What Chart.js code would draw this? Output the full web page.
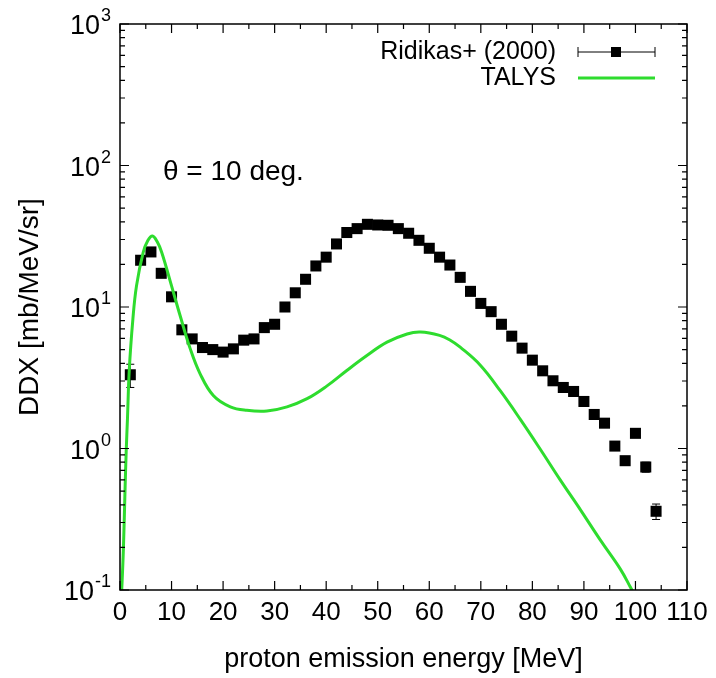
<!DOCTYPE html>
<html>
<head>
<meta charset="utf-8">
<title>DDX proton emission, theta = 10 deg</title>
<script src="https://cdn.jsdelivr.net/npm/chart.js@4.4.1/dist/chart.umd.min.js"></script>
<style>
  html, body { margin: 0; padding: 0; background: #fff; }
  #wrap { width: 716px; height: 678px; }
</style>
</head>
<body>
<div id="wrap"><canvas id="ddxChart" width="716" height="678"></canvas></div>
<script>
// Ridikas+ (2000) measured DDX at 10 deg
const energy = [2, 4, 6, 8, 10, 12, 14, 16, 18, 20, 22, 24, 26, 28, 30, 32, 34, 36, 38, 40,
                42, 44, 46, 48, 50, 52, 54, 56, 58, 60, 62, 64, 66, 68, 70, 72, 74, 76, 78, 80,
                82, 84, 86, 88, 90, 92, 94, 96, 98, 100, 102, 104];
const ddx = [3.32, 21.4, 24.5, 17.3, 11.8, 6.9, 5.95, 5.17, 5.0, 4.8, 5.06, 5.83, 5.95, 7.15, 7.55, 10.0, 12.6, 15.7, 19.5, 22.5,
             27.9, 33.6, 35.8, 38.4, 38.0, 37.8, 35.8, 33.2, 29.6, 26.0, 22.5, 19.8, 16.2, 12.9, 10.6, 9.27, 7.55, 6.22, 5.12, 4.21,
             3.54, 3.01, 2.70, 2.53, 2.15, 1.74, 1.51, 1.04, 0.82, 1.28, 0.74, 0.36];
const ddxErr = [0.62, 0.9, 1.0, 0.7, 0.5, 0.3, 0.25, 0.2, 0.2, 0.2, 0.2, 0.25, 0.25, 0.3, 0.3, 0.4, 0.5, 0.6, 0.8, 0.9,
                1.1, 1.3, 1.4, 1.5, 1.5, 1.5, 1.4, 1.3, 1.2, 1.0, 0.9, 0.8, 0.7, 0.5, 0.45, 0.4, 0.3, 0.25, 0.22, 0.18,
                0.15, 0.13, 0.12, 0.11, 0.1, 0.08, 0.07, 0.05, 0.04, 0.06, 0.06, 0.045];

// TALYS calculation
const talysEnergy = [0.25, 0.65, 1.0, 1.2, 1.45, 1.8, 2.5, 3.2, 4.5, 5.4, 6.3, 7.2, 8.1, 10.0, 11.7, 13.6, 15.5, 18.1,
                     21.4, 24.6, 28.5, 32.4, 36.3, 40.1, 44.0, 47.9, 51.8, 55.7, 58.3, 62.0, 64.0, 66.0, 69.9, 73.8,
                     77.7, 81.6, 85.4, 89.3, 93.2, 97.1, 99.0, 100.0];
const talysDdx = [0.085, 0.19, 0.55, 0.95, 1.63, 3.6, 8.2, 14.1, 24.3, 29.5, 31.8, 29.0, 24.3, 14.1, 8.6, 5.1, 3.4, 2.37,
                  1.97, 1.86, 1.84, 1.97, 2.25, 2.76, 3.56, 4.54, 5.64, 6.45, 6.65, 6.3, 5.85, 5.2, 3.88, 2.55,
                  1.6, 0.98, 0.6, 0.37, 0.225, 0.14, 0.105, 0.09];

const yDecades = [0.1, 1, 10, 100, 1000];
const yExponents = ['-1', '0', '1', '2', '3'];
const yMinorSteps = [2, 3, 4, 5, 6, 7, 8, 9];

const FONT = '"Liberation Sans", Arial, sans-serif';
const GREEN = '#2edc2e';
Chart.defaults.font.family = FONT;
Chart.defaults.color = '#000';

// error bars under the squares
const errorBars = {
    id: 'errorBars',
    beforeDatasetsDraw(chart) {
        const { ctx, scales: { x, y } } = chart;
        ctx.save();
        ctx.strokeStyle = '#000';
        ctx.lineWidth = 1;
        ctx.beginPath();
        energy.forEach((e, i) => {
            const px = x.getPixelForValue(e);
            const top = y.getPixelForValue(ddx[i] + ddxErr[i]);
            const bot = y.getPixelForValue(ddx[i] - ddxErr[i]);
            ctx.moveTo(px, top); ctx.lineTo(px, bot);
            ctx.moveTo(px - 4, top); ctx.lineTo(px + 4, top);
            ctx.moveTo(px - 4, bot); ctx.lineTo(px + 4, bot);
        });
        ctx.stroke();
        ctx.restore();
    }
};

// gnuplot style border, inward ticks, y labels, legend and annotation
const frame = {
    id: 'frame',
    afterDraw(chart) {
        const { ctx, chartArea: a, scales: { x, y } } = chart;
        ctx.save();
        ctx.strokeStyle = '#000';
        ctx.lineWidth = 1.5;
        ctx.strokeRect(a.left, a.top, a.right - a.left, a.bottom - a.top);

        ctx.lineWidth = 1.2;
        ctx.beginPath();
        for (let v = x.min; v <= x.max; v += 5) {
            const px = x.getPixelForValue(v);
            const len = v % 10 === 0 ? 9 : 5;
            ctx.moveTo(px, a.bottom); ctx.lineTo(px, a.bottom - len);
            ctx.moveTo(px, a.top); ctx.lineTo(px, a.top + len);
        }
        yDecades.forEach((d, i) => {
            const py = y.getPixelForValue(d);
            ctx.moveTo(a.left, py); ctx.lineTo(a.left + 9, py);
            ctx.moveTo(a.right, py); ctx.lineTo(a.right - 9, py);
            if (i === yDecades.length - 1) return;
            yMinorSteps.forEach(m => {
                const pm = y.getPixelForValue(m * d);
                ctx.moveTo(a.left, pm); ctx.lineTo(a.left + 5, pm);
                ctx.moveTo(a.right, pm); ctx.lineTo(a.right - 5, pm);
            });
        });
        ctx.stroke();

        // y tick labels 10^n
        ctx.fillStyle = '#000';
        ctx.textBaseline = 'alphabetic';
        ctx.textAlign = 'left';
        yDecades.forEach((d, i) => {
            const py = y.getPixelForValue(d);
            ctx.font = '27px ' + FONT;
            const wBase = ctx.measureText('10').width;
            ctx.font = '18px ' + FONT;
            const wExp = ctx.measureText(yExponents[i]).width;
            const x0 = a.left - 10 - wBase - wExp;
            ctx.font = '27px ' + FONT;
            ctx.fillText('10', x0, py + 10);
            ctx.font = '18px ' + FONT;
            ctx.fillText(yExponents[i], x0 + wBase + 1, py - 3);
        });

        // angle annotation
        ctx.font = '28px ' + FONT;
        ctx.textBaseline = 'middle';
        ctx.fillText('\u03b8 = 10 deg.', 163, 172);

        // legend
        ctx.textAlign = 'right';
        ctx.font = '25px ' + FONT;
        ctx.fillText('Ridikas+ (2000)', 556, 52);
        ctx.fillText('TALYS', 556, 78);
        ctx.lineWidth = 1;
        ctx.beginPath();
        ctx.moveTo(578, 52); ctx.lineTo(655, 52);
        ctx.moveTo(578, 47); ctx.lineTo(578, 57);
        ctx.moveTo(655, 47); ctx.lineTo(655, 57);
        ctx.stroke();
        ctx.fillRect(611, 47, 10, 10);
        ctx.strokeStyle = GREEN;
        ctx.lineWidth = 3;
        ctx.beginPath();
        ctx.moveTo(578, 78); ctx.lineTo(655, 78);
        ctx.stroke();
        ctx.restore();
    }
};

new Chart(document.getElementById('ddxChart'), {
    type: 'scatter',
    data: {
        datasets: [
            {
                label: 'TALYS',
                data: talysEnergy.map((e, i) => ({ x: e, y: talysDdx[i] })),
                showLine: true,
                borderColor: GREEN,
                borderWidth: 3,
                pointRadius: 0,
                fill: false,
                tension: 0.4,
                order: 0
            },
            {
                label: 'Ridikas+ (2000)',
                data: energy.map((e, i) => ({ x: e, y: ddx[i] })),
                pointStyle: 'rect',
                pointRadius: 7.8,
                backgroundColor: '#000',
                borderColor: '#000',
                borderWidth: 0,
                order: 1
            }
        ]
    },
    options: {
        responsive: false,
        animation: false,
        devicePixelRatio: 1,
        layout: { padding: { top: 24, right: 29, left: 0, bottom: 0 } },
        plugins: {
            legend: { display: false },
            tooltip: { enabled: false }
        },
        scales: {
            x: {
                type: 'linear',
                min: 0,
                max: 110,
                ticks: {
                    stepSize: 10,
                    autoSkip: false,
                    maxRotation: 0,
                    padding: 7,
                    font: { size: 26 },
                    color: '#000'
                },
                grid: { display: false, drawTicks: false },
                border: { display: false },
                title: {
                    display: true,
                    text: 'proton emission energy [MeV]',
                    font: { size: 27 },
                    color: '#000',
                    padding: { top: 0, bottom: 2 }
                },
                afterFit(s) { s.height = 88; }
            },
            y: {
                type: 'logarithmic',
                min: 0.1,
                max: 1000,
                ticks: { display: false },
                grid: { display: false, drawTicks: false },
                border: { display: false },
                title: {
                    display: true,
                    text: 'DDX [mb/MeV/sr]',
                    font: { size: 28 },
                    color: '#000',
                    padding: { top: 13, bottom: 0 }
                },
                afterFit(s) { s.width = 120; }
            }
        }
    },
    plugins: [errorBars, frame]
});
</script>
</body>
</html>
